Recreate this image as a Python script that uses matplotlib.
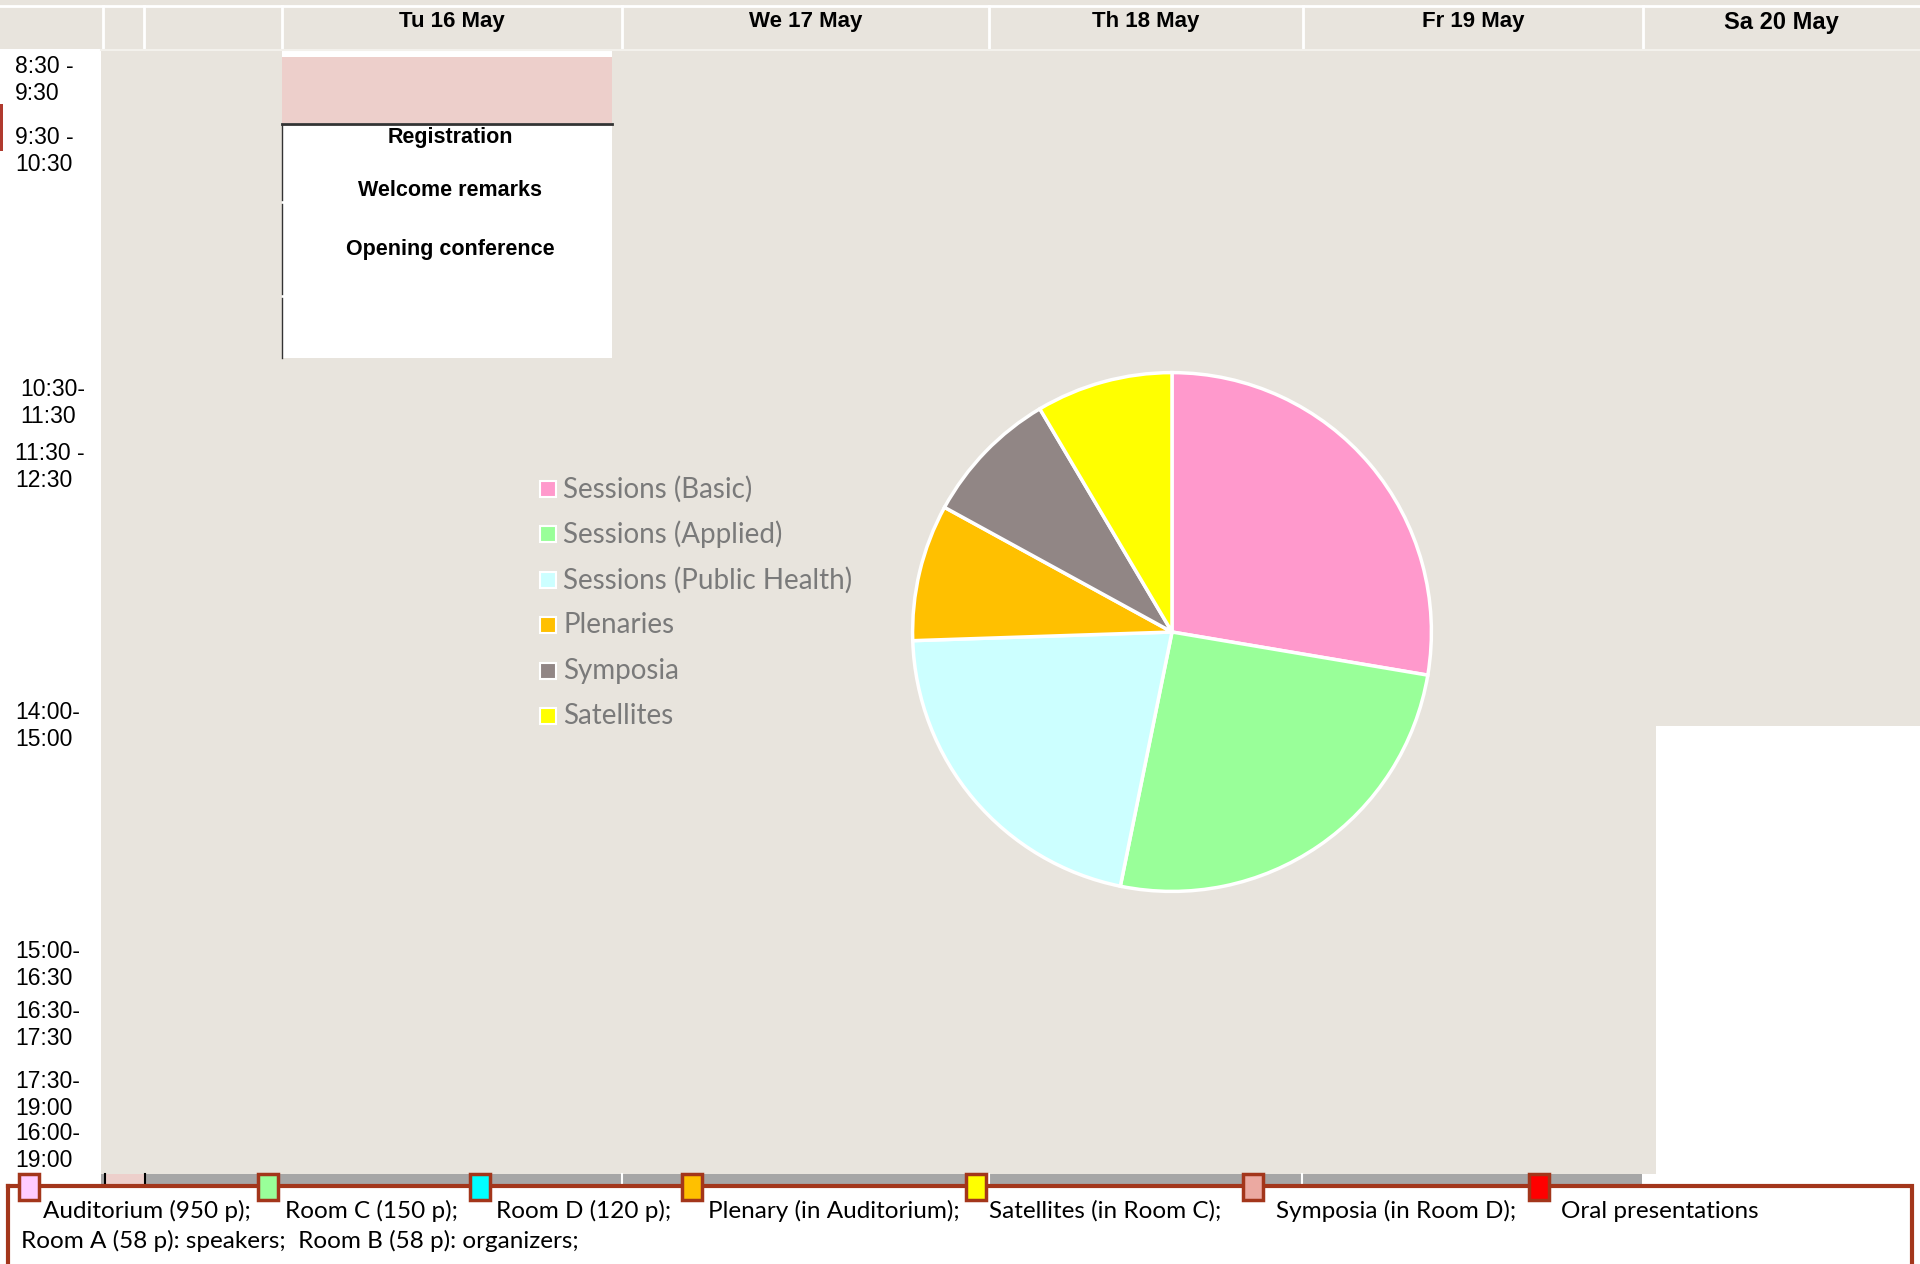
import matplotlib.pyplot as plt
from matplotlib.patches import Rectangle

W, H = 1920, 1264

# pie data
slice_labels = ["Sessions (Basic)", "Sessions (Applied)", "Sessions (Public Health)",
                "Plenaries", "Symposia", "Satellites"]
slice_values = [13, 12, 10, 4, 4, 4]
slice_colors = ["#FF99CC", "#99FF99", "#CCFFFF", "#FFC000", "#918685", "#FFFF00"]

# schedule texts
days = ["Tu 16 May", "We 17 May", "Th 18 May", "Fr 19 May", "Sa 20 May"]
time_slots = ["8:30 -\n9:30", "9:30 -\n10:30", "10:30-\n11:30", "11:30 -\n12:30",
              "14:00-\n15:00", "15:00-\n16:30", "16:30-\n17:30", "17:30-\n19:00",
              "16:00-\n19:00"]
tu_events = ["Registration", "Welcome remarks", "Opening conference"]

room_labels = ["Auditorium (950 p);", "Room C (150 p);", "Room D (120 p);",
               "Plenary (in Auditorium);", "Satellites (in Room C);",
               "Symposia (in Room D);", "Oral presentations"]
room_colors = ["#FFCCFF", "#99FF99", "#00FFFF", "#FFC000", "#FFFF00", "#EBA9A1", "#FF0000"]
room_note = "Room A (58 p): speakers;  Room B (58 p): organizers;"

# layout (pixels)
col_edges = [0, 103, 144, 282, 622, 989, 1303, 1643, W]
time_y = [80, 151, 403, 467, 726, 965, 1025, 1095, 1147]
time_x = [15, 15, 20, 15, 15, 15, 15, 15, 15]
event_y = [137, 190, 250]
key_x = [29, 268, 480, 692, 976, 1253, 1539]
key_text_x = [43, 285, 496, 708, 989, 1276, 1561]

beige = "#E8E4DD"
dark_red = "#A3361B"
sans = ["Liberation Sans", "DejaVu Sans"]
round_font = ["Lato", "DejaVu Sans"]

fig = plt.figure(figsize=(W / 100, H / 100), dpi=100, facecolor="white")
ax = fig.add_axes([0, 0, 1, 1])
ax.set_xlim(0, W)
ax.set_ylim(H, 0)
ax.axis("off")

def box(x0, y0, x1, y1, **kw):
    ax.add_patch(Rectangle((x0, y0), x1 - x0, y1 - y0, **kw))

# header band
box(0, 0, W, 49, facecolor=beige, edgecolor="none")
ax.plot([0, W], [6, 6], color="white", lw=2)
for x in col_edges[1:-1]:
    ax.plot([x, x], [6, 49], color="white", lw=2)
for i, d in enumerate(days):
    cx = (col_edges[i + 3] + col_edges[i + 4]) / 2
    ax.text(cx, 22, d, ha="center", va="center", family=sans, weight="bold",
            fontsize=17 if i == 4 else 16)

# body
box(101, 49, W, 726, facecolor=beige, edgecolor="none")
box(101, 726, 1656, 1174, facecolor=beige, edgecolor="none")
ax.plot([101, W], [49.5, 49.5], color="#F3F1EC", lw=1.5)
box(0, 104, 3, 151, facecolor="#B03A2E", edgecolor="none")

# time labels
for x, y, t in zip(time_x, time_y, time_slots):
    ax.text(x, y, t, ha="left", va="center", family=sans, fontsize=16.5,
            linespacing=1.25)

# Tuesday opening block
box(282, 50, 612, 358, facecolor="white", edgecolor="none")
box(282, 57, 612, 123, facecolor="#EDCFCB", edgecolor="none")
ax.plot([282, 612], [124, 124], color="#333333", lw=2)
ax.plot([282, 282], [124, 200], color="#333333", lw=1)
ax.plot([282, 282], [204, 294], color="#333333", lw=1)
ax.plot([282, 282], [298, 358], color="#333333", lw=1)
for y, t in zip(event_y, tu_events):
    ax.text(450, y, t, ha="center", va="center", family=sans, weight="bold",
            fontsize=15.5)

# bottom grey strip
box(101, 1174, 1642, 1186, facecolor="#A6A6A6", edgecolor="none")
box(105, 1174, 145, 1186, facecolor="#EDCFCB", edgecolor="none")
for x in [105, 145]:
    ax.plot([x, x], [1174, 1186], color="black", lw=1.5)
for x in [622, 989, 1302]:
    ax.plot([x, x], [1174, 1186], color="white", lw=1.5)

# room key box
ax.plot([8, 1912, 1912], [1186, 1186, H + 5], color=dark_red, lw=3,
        solid_joinstyle="miter")
ax.plot([8, 8], [1186, H + 5], color=dark_red, lw=3)
for x, c in zip(key_x, room_colors):
    box(x - 10, 1174, x + 10, 1200, facecolor=c, edgecolor=dark_red, lw=2.5,
        zorder=5)
for x, t in zip(key_text_x, room_labels):
    ax.text(x, 1211, t, ha="left", va="center", family=round_font, fontsize=17.5)
ax.text(21, 1241, room_note, ha="left", va="center", family=round_font, fontsize=17.5)

# pie legend
for i, (lab, c) in enumerate(zip(slice_labels, slice_colors)):
    y = 489 + 45.4 * i
    box(540, y - 8, 556, y + 8, facecolor=c, edgecolor="white", lw=1.5)
    ax.text(563, y, lab, ha="left", va="center", family=round_font, fontsize=20,
            color="#7A7A7A")

# pie chart
cx, cy, r = 1172, 632, 262
pax = fig.add_axes([(cx - r) / W, 1 - (cy + r) / H, 2 * r / W, 2 * r / H])
pax.pie(slice_values, colors=slice_colors, startangle=90, counterclock=False,
        radius=1, wedgeprops=dict(edgecolor="white", linewidth=2.5))
pax.set_xlim(-1.01, 1.01)
pax.set_ylim(-1.01, 1.01)
pax.set_aspect("equal")
pax.axis("off")

fig.savefig("out.png", dpi=100, facecolor="white")
